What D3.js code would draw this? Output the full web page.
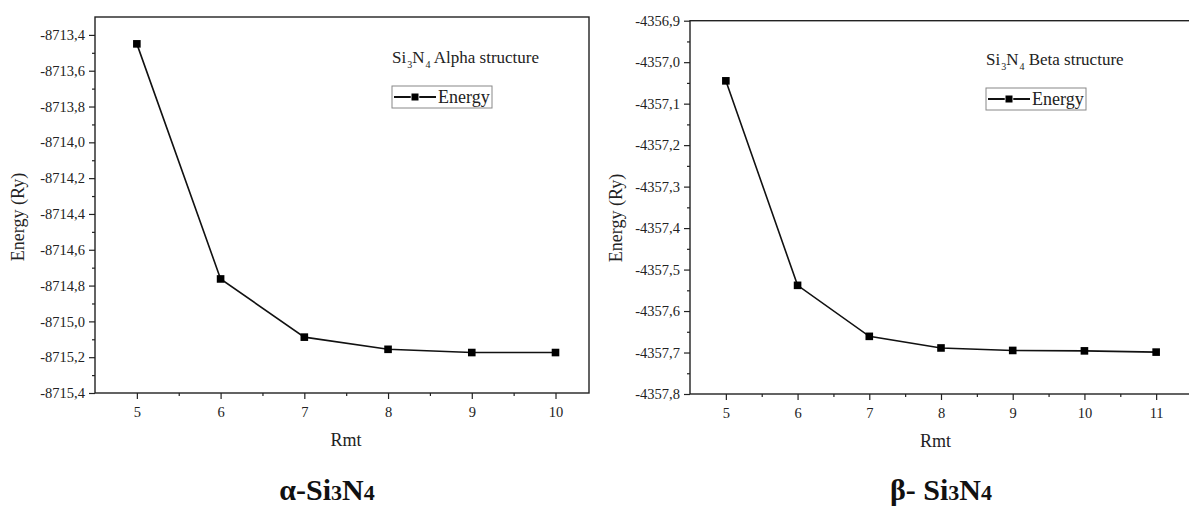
<!DOCTYPE html>
<html>
<head>
<meta charset="utf-8">
<script src="https://cdn.jsdelivr.net/npm/d3@7"></script>
<style>
  html, body { margin: 0; padding: 0; background: #fff; }
  svg { display: block; }
  svg text { font-family: "Liberation Serif", "Times New Roman", serif; }
</style>
</head>
<body>
<svg id="chart" width="1189" height="507"></svg>
<script>
// Total energy vs. Rmt for the two Si3N4 polymorphs
const rmtAlpha = [5, 6, 7, 8, 9, 10];
const energyAlpha = [-8713.45, -8714.763, -8715.088, -8715.156, -8715.174, -8715.174];
const yTicksAlpha = [-8715.4, -8715.2, -8715.0, -8714.8, -8714.6, -8714.4, -8714.2, -8714.0, -8713.8, -8713.6, -8713.4];
const xTicksAlpha = [5, 6, 7, 8, 9, 10];

const rmtBeta = [5, 6, 7, 8, 9, 10, 11];
const energyBeta = [-4357.045, -4357.538, -4357.661, -4357.689, -4357.695, -4357.696, -4357.699];
const yTicksBeta = [-4357.8, -4357.7, -4357.6, -4357.5, -4357.4, -4357.3, -4357.2, -4357.1, -4357.0, -4356.9];
const xTicksBeta = [5, 6, 7, 8, 9, 10, 11];

const svg = d3.select("#chart");
const SERIF = '"Liberation Serif", "Times New Roman", serif';

function panel(opt) {
  const x = d3.scaleLinear().domain(opt.xDomain).range([opt.left, opt.right]);
  const y = d3.scaleLinear().domain(opt.yDomain).range([opt.bottom, opt.top]);
  const g = svg.append("g");
  const fmt = v => d3.format("." + opt.dec + "f")(v).replace("−", "-").replace(".", ",");

  // frame
  g.append("rect")
    .attr("x", opt.left).attr("y", opt.top)
    .attr("width", opt.right - opt.left).attr("height", opt.bottom - opt.top)
    .attr("fill", "none").attr("stroke", "#222").attr("stroke-width", 1.4);

  // minor ticks halfway between the major ones
  const xMinor = opt.xTicks.map(v => v + 0.5).filter(v => x(v) < opt.right - 1);
  const yStep = opt.yTicks[1] - opt.yTicks[0];
  const yMinor = opt.yTicks.slice(0, -1).map(v => v + yStep / 2);

  const xAxis = d3.axisBottom(x).tickValues(opt.xTicks).tickSize(6).tickPadding(8).tickFormat(d3.format("d"));
  const xAxisMinor = d3.axisBottom(x).tickValues(xMinor).tickSize(3).tickFormat("");
  const yAxis = d3.axisLeft(y).tickValues(opt.yTicks).tickSize(6).tickPadding(4).tickFormat(fmt);
  const yAxisMinor = d3.axisLeft(y).tickValues(yMinor).tickSize(3).tickFormat("");

  [[xAxis, "x"], [xAxisMinor, "x"], [yAxis, "y"], [yAxisMinor, "y"]].forEach(([ax, k]) => {
    const a = g.append("g")
      .attr("transform", k === "x" ? `translate(0,${opt.bottom})` : `translate(${opt.left},0)`)
      .call(ax);
    a.attr("font-family", null).attr("font-size", null);
    a.select(".domain").remove();
    a.selectAll("line").attr("stroke", "#222").attr("stroke-width", 1.2);
    a.selectAll("text").attr("fill", "#222")
      .style("font-size", "14.5px").style("font-family", SERIF);
  });

  // axis titles
  g.append("text")
    .attr("x", (opt.left + Math.min(opt.right, 1189)) / 2 + opt.xTitleShift).attr("y", opt.bottom + 53)
    .attr("text-anchor", "middle").style("font-size", "18px").attr("fill", "#222").text("Rmt");
  g.append("text")
    .attr("transform", `translate(${opt.yTitleX},${opt.yTitleY}) rotate(-90)`)
    .attr("text-anchor", "middle").style("font-size", "18px").attr("fill", "#222").text("Energy (Ry)");

  // series
  const pts = opt.xs.map((v, i) => [v, opt.ys[i]]);
  g.append("path").datum(pts)
    .attr("d", d3.line().x(d => x(d[0])).y(d => y(d[1])))
    .attr("fill", "none").attr("stroke", "#111").attr("stroke-width", 1.6);
  g.selectAll("rect.pt").data(pts).enter().append("rect")
    .attr("class", "pt")
    .attr("x", d => x(d[0]) - 3.8).attr("y", d => y(d[1]) - 3.8)
    .attr("width", 7.6).attr("height", 7.6).attr("fill", "#000");

  // annotation with subscripts
  const t = g.append("text").attr("x", opt.noteX).attr("y", opt.noteY)
    .style("font-size", "17px").attr("fill", "#222");
  t.append("tspan").text("Si");
  t.append("tspan").style("font-size", "10px").attr("dy", 5).attr("dx", 1).text("3");
  t.append("tspan").attr("dy", -5).text("N");
  t.append("tspan").style("font-size", "10px").attr("dy", 5).attr("dx", 1).text("4");
  t.append("tspan").attr("dy", -5).text(" " + opt.noteText);

  // legend
  const lx = opt.noteX, ly = opt.legendY;
  g.append("rect").attr("x", lx).attr("y", ly).attr("width", 100).attr("height", 22)
    .attr("fill", "#fff").attr("stroke", "#888").attr("stroke-width", 1);
  g.append("line").attr("x1", lx + 2).attr("x2", lx + 44).attr("y1", ly + 11).attr("y2", ly + 11)
    .attr("stroke", "#111").attr("stroke-width", 1.8);
  g.append("rect").attr("x", lx + 19.5).attr("y", ly + 7.5).attr("width", 7).attr("height", 7).attr("fill", "#000")
    .attr("stroke", "#fff").attr("stroke-width", 1.5).attr("paint-order", "stroke");
  g.append("text").attr("x", lx + 46).attr("y", ly + 16.5).style("font-size", "18px").attr("fill", "#222").text("Energy");

  // bold caption under the panel
  const c = svg.append("text").attr("x", opt.captionX).attr("y", 500)
    .attr("text-anchor", "middle").style("font-size", "30px").attr("font-weight", "bold").attr("fill", "#111");
  c.append("tspan").text(opt.captionPrefix + "Si");
  c.append("tspan").style("font-size", "22px").text("3");
  c.append("tspan").text("N");
  c.append("tspan").style("font-size", "22px").text("4");
}

panel({
  xs: rmtAlpha, ys: energyAlpha, xTicks: xTicksAlpha, yTicks: yTicksAlpha,
  xDomain: [4.5, 10.4], yDomain: [-8715.4, -8713.3], dec: 1,
  left: 95, right: 589, top: 17, bottom: 393,
  yTitleX: 24, yTitleY: 217, xTitleShift: 4,
  noteX: 392, noteY: 63, noteText: "Alpha structure", legendY: 86,
  captionX: 327, captionPrefix: "α-"
});

panel({
  xs: rmtBeta, ys: energyBeta, xTicks: xTicksBeta, yTicks: yTicksBeta,
  xDomain: [4.5, 11.5], yDomain: [-4357.8, -4356.9], dec: 1,
  left: 690, right: 1192, top: 20.7, bottom: 394,
  yTitleX: 622, yTitleY: 218, xTitleShift: -4,
  noteX: 986, noteY: 65, noteText: "Beta structure", legendY: 88,
  captionX: 941, captionPrefix: "β- "
});
</script>
</body>
</html>
